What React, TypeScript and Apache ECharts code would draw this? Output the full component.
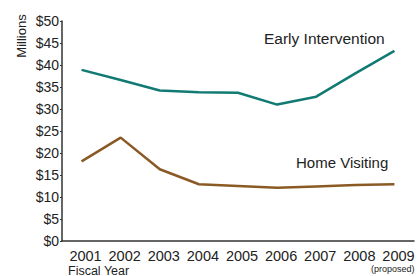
import React, { useEffect, useRef } from "react";
import * as echarts from "echarts";

const years = ["2001", "2002", "2003", "2004", "2005", "2006", "2007", "2008", "2009"];
const earlyIntervention = [38.9, 36.6, 34.2, 33.8, 33.7, 31.0, 32.8, 38.1, 43.2];
const homeVisiting = [18.1, 23.5, 16.3, 12.9, 12.5, 12.1, 12.4, 12.7, 12.9];
const yTicks = [0, 5, 10, 15, 20, 25, 30, 35, 40, 45, 50];

export default function App() {
  const ref = useRef<HTMLDivElement>(null);
  useEffect(() => {
    const chart = echarts.init(ref.current!, null, { renderer: "svg" });
    const font = "Liberation Sans, Arial, sans-serif";
    chart.setOption({
      animation: false,
      grid: { left: 62, right: 6, top: 21, bottom: 35 },
      xAxis: {
        type: "category",
        data: years,
        boundaryGap: true,
        axisLine: { lineStyle: { color: "#333", width: 1.5 } },
        axisTick: { show: false },
        axisLabel: {
          color: "#222",
          fontSize: 14.5,
          fontFamily: font,
          margin: 7,
          interval: 0,
          padding: [0, 0, 0, 8],
        },
      },
      yAxis: {
        type: "value",
        min: yTicks[0],
        max: yTicks[yTicks.length - 1],
        interval: 5,
        splitLine: { show: false },
        axisLine: { show: true, lineStyle: { color: "#333", width: 1.5 } },
        axisTick: { show: true, length: 2, lineStyle: { color: "#333" } },
        axisLabel: {
          color: "#222",
          fontSize: 14,
          fontFamily: font,
          margin: 3,
          formatter: (v: number) => "$" + v,
        },
      },
      series: [
        {
          type: "line",
          data: earlyIntervention,
          symbol: "none",
          lineStyle: { color: "#117a72", width: 2.5 },
        },
        {
          type: "line",
          data: homeVisiting,
          symbol: "none",
          lineStyle: { color: "#8b5a24", width: 2.5 },
        },
      ],
      graphic: [
        {
          type: "text",
          left: 264,
          top: 30,
          style: { text: "Early Intervention", fontSize: 15.5, fontFamily: font, fill: "#222" },
        },
        {
          type: "text",
          left: 296,
          top: 155,
          style: { text: "Home Visiting", fontSize: 15, fontFamily: font, fill: "#222" },
        },
        {
          type: "text",
          x: 21,
          y: 36,
          rotation: Math.PI / 2,
          style: {
            text: "Millions",
            fontSize: 13,
            fontFamily: font,
            fill: "#222",
            align: "center",
            verticalAlign: "middle",
          },
        },
        {
          type: "text",
          left: 68,
          top: 264,
          style: { text: "Fiscal Year", fontSize: 12.5, fontFamily: font, fill: "#222" },
        },
        {
          type: "text",
          left: 371,
          top: 264,
          style: { text: "(proposed)", fontSize: 9, fontFamily: font, fill: "#222" },
        },
      ],
    });
    return () => chart.dispose();
  }, []);
  return <div ref={ref} style={{ width: 420, height: 276, position: "absolute", left: 0, top: 0 }} />;
}
